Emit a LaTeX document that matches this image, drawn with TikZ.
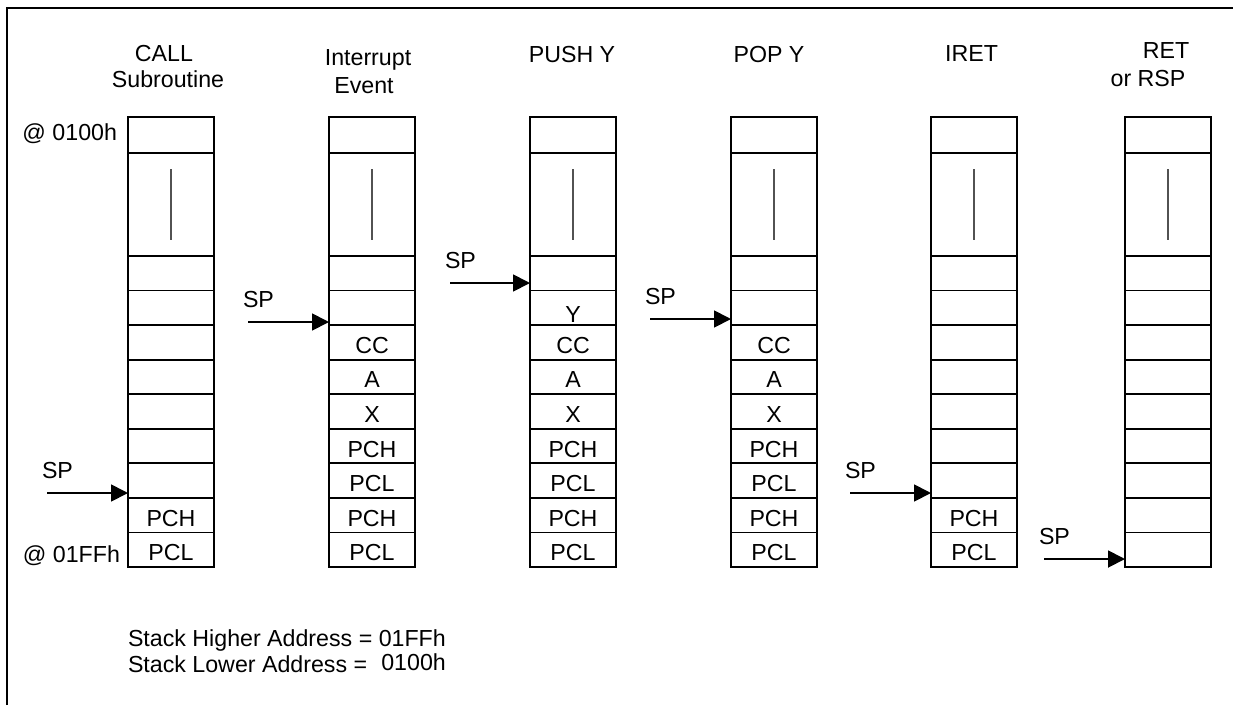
\documentclass[tikz,border=0pt]{standalone}
\usepackage{fontspec}
\setmainfont{Liberation Sans}
\usetikzlibrary{arrows.meta}
\tikzstyle{every node}=[font=\fontsize{23.2}{28}\selectfont, inner sep=0pt, outer sep=0pt]
\tikzstyle{cell}=[draw, line width=1.8pt, minimum width=86pt, minimum height=34.56pt, anchor=north west]
\tikzstyle{celltext}=[text height=22pt, text depth=0pt]
\tikzstyle{bar}=[draw=black!68, line width=1.1pt]
\tikzstyle{sparrow}=[line width=1.8pt, -{Triangle[length=17pt, width=17pt]}]

\begin{document}
\begin{tikzpicture}[x=1pt, y=-1pt]
\useasboundingbox (0,0) rectangle (1233,705);
% Frame
    \draw[line width=1.8pt] (7,705) -- (7,8) -- (1233,8);
% Stacks
    \foreach \col/\x in {1/128, 2/329, 3/530, 4/731, 5/931, 6/1125} {
        \node[cell, minimum height=36pt] (top\col) at (\x,117) {};
        \node[cell, minimum height=103pt] (mid\col) at (\x,153) {};
        \draw[bar] (mid\col.north) ++(0,16) -- ++(0,71);
        \foreach \r in {0,...,8}
            \node[cell] (c\col r\r) at (\x,256+34.56*\r) {};
    }
% Stack contents
    \foreach \col in {1,5}
        \foreach \t [count=\r from 7] in {PCH,PCL}
            \node[celltext] (t\col r\r) at (c\col r\r) {\t};
    \foreach \col in {2,3,4}
        \foreach \t [count=\r from 2] in {CC,A,X,PCH,PCL,PCH,PCL}
            \node[celltext] (t\col r\r) at (c\col r\r) {\t};
    \node[celltext] (t3r1) at (c3r1) {\raisebox{-4pt}{Y}};
% Headings
    \node[anchor=base] (call) at (164,61) {CALL};
    \node[anchor=base] (subr) at (168,87) {Subroutine};
    \node[anchor=base] (intr) at (368,65) {Interrupt};
    \node[anchor=base] (event) at (364,93) {Event};
    \node[anchor=base] (push) at (572,62) {PUSH Y};
    \node[anchor=base] (pop) at (769,62) {POP Y};
    \node[anchor=base] (iret) at (971.5,61.7) {IRET};
    \node[anchor=base] (ret) at (1166,58) {RET};
    \node[anchor=base] (rsp) at (1148,86) {or RSP};
% Addresses
    \node[anchor=base east] (lowaddr) at (117,140.7) {@ 0100h};
    \node[anchor=base east] (highaddr) at (120,562.7) {@ 01FFh};
% Stack pointers
    \foreach \col/\tx/\ty in {1/47/493, 2/248/322, 3/450/283, 4/650/319, 5/850/493, 6/1044/559} {
        \coordinate (sp\col) at (\tx,\ty);
        \node[anchor=base west] (splbl\col) at ([shift={(-5,-15)}]sp\col) {SP};
        \draw[sparrow] (sp\col) -- (sp\col -| c\col r0.west);
    }
% Notes
    \node[anchor=base west] (hinote) at (128,646) {Stack Higher Address = 01FFh};
    \node[anchor=base west] (lonote) at (128,672) {Stack Lower Address =};
    \node[anchor=base east] (loval) at (hinote.base east |- 0,670.5) {0100h};
\end{tikzpicture}
\end{document}
